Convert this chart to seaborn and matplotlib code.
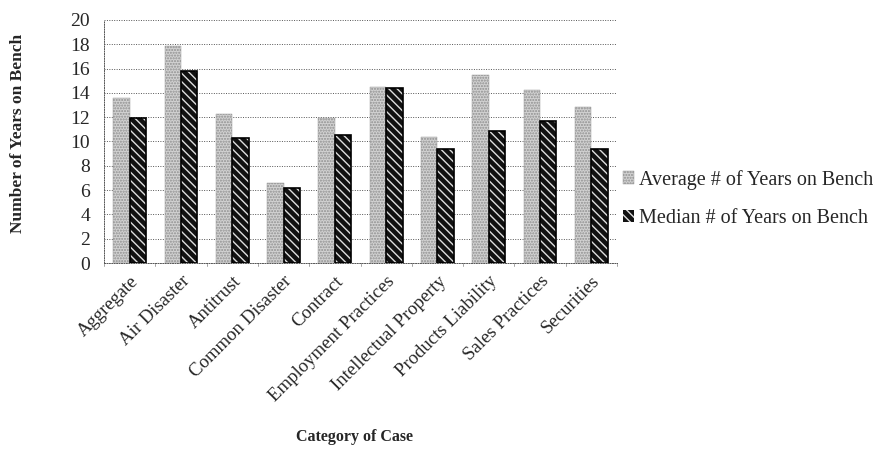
import matplotlib
matplotlib.use("Agg")
import matplotlib.pyplot as plt
import matplotlib.patches as mpatches
import seaborn as sns
import pandas as pd

categories = ["Aggregate", "Air Disaster", "Antitrust", "Common Disaster", "Contract",
              "Employment Practices", "Intellectual Property", "Products Liability",
              "Sales Practices", "Securities"]
average_years = [13.6, 17.9, 12.3, 6.6, 11.9, 14.5, 10.4, 15.5, 14.2, 12.8]
median_years = [11.9, 15.8, 10.3, 6.2, 10.5, 14.4, 9.4, 10.9, 11.7, 9.4]
series_names = ["Average # of Years on Bench", "Median # of Years on Bench"]
y_ticks = list(range(0, 21, 2))

df = pd.DataFrame({
    "Category": categories * 2,
    "Years": average_years + median_years,
    "Series": [series_names[0]] * len(categories) + [series_names[1]] * len(categories),
})

sns.set_style("white")
plt.rcParams["font.family"] = ["Liberation Serif", "DejaVu Serif"]

fig = plt.figure(figsize=(8.76, 4.67), dpi=100)
ax = fig.add_axes([104 / 876, 1 - 263 / 467, (617 - 104) / 876, (263 - 20) / 467])

sns.barplot(data=df, x="Category", y="Years", hue="Series", order=categories,
            hue_order=series_names, width=0.64, gap=0, ax=ax, legend=False,
            palette=["#cfcfcf", "#111111"], saturation=1, errorbar=None)

n = len(categories)
patches = list(ax.patches)
for i, p in enumerate(patches[:2 * n]):
    if i < n:
        p.set_facecolor("#d2d2d2")
        p.set_edgecolor("#8f8f8f")
        p.set_hatch("......")
        p.set_linewidth(0.3)
    else:
        p.set_facecolor("#111111")
        p.set_edgecolor("#dddddd")
        p.set_hatch("\\\\\\\\")
        p.set_linewidth(0)
        ax.add_patch(mpatches.Rectangle((p.get_x(), p.get_y()), p.get_width(), p.get_height(),
                                        fill=False, edgecolor="#000000", linewidth=1.2, zorder=3))

ax.set_ylim(0, 20)
ax.set_xlim(-0.5, n - 0.5)
ax.set_yticks(y_ticks)
ax.set_yticklabels([str(t) for t in y_ticks], fontsize=14)
ax.yaxis.grid(True, linestyle=(0, (1, 1.5)), color="#555555", linewidth=0.7)
ax.set_axisbelow(True)

ax.set_xticks(range(n))
ax.set_xticklabels(categories, rotation=45, ha="right", rotation_mode="anchor", fontsize=13.5)
ax.tick_params(axis="x", length=0, pad=7)
ax.tick_params(axis="y", length=0, pad=10)
for k in range(n + 1):
    ax.plot([k - 0.5, k - 0.5], [0, -0.25], color="#555555", linewidth=0.7,
            linestyle=(0, (1, 1)), clip_on=False)

for s in ["top", "right"]:
    ax.spines[s].set_visible(False)
for s in ["left", "bottom"]:
    ax.spines[s].set_linestyle((0, (1, 1.5)))
    ax.spines[s].set_color("#555555")
    ax.spines[s].set_linewidth(0.7)

ax.set_xlabel("")
ax.set_ylabel("")
fig.text(18 / 876, 1 - 133 / 467, "Number of Years on Bench", fontsize=12.5, fontweight="bold",
         rotation=90, ha="center", va="center")
fig.text(355 / 876, 1 - 437 / 467, "Category of Case", fontsize=11.5, fontweight="bold",
         ha="center", va="center")

handles = [
    mpatches.Patch(facecolor="#d2d2d2", edgecolor="#8f8f8f", hatch="......", linewidth=0.3),
    mpatches.Patch(facecolor="#111111", edgecolor="#dddddd", hatch="\\\\\\\\", linewidth=0),
]
fig.legend(handles, series_names, loc="center left", bbox_to_anchor=(623 / 876, 1 - 199 / 467),
           frameon=False, fontsize=14.5, handlelength=0.55, handleheight=0.6, handletextpad=0.25,
           labelspacing=0.95, borderaxespad=0, borderpad=0)

fig.savefig("out.png", dpi=100)
